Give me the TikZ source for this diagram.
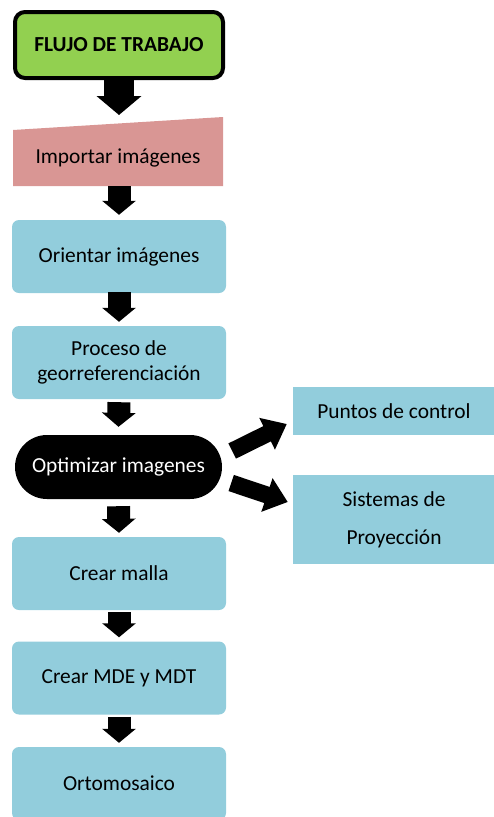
\documentclass[tikz,border=0pt]{standalone}
\usepackage{fontspec}
\setmainfont{Carlito}
\usetikzlibrary{arrows.meta,calc,shapes.misc}
\definecolor{boxblue}{HTML}{92CDDC}
\definecolor{flgreen}{HTML}{92D050}
\definecolor{impink}{HTML}{D99694}
\begin{document}
\begin{tikzpicture}[x=1pt,y=-1pt,
  txt/.style={font=\fontsize{21.4}{25}\selectfont, text=black, align=center, inner sep=0pt},
  bluebox/.style={txt, fill=boxblue, rounded corners=7pt, minimum width=214pt, minimum height=73pt},
  sidebox/.style={txt, fill=boxblue, minimum width=202pt},
  bigdown/.style={line width=30pt, -{Triangle[width=44pt,length=19pt]}},
  downarr/.style={line width=23pt, -{Triangle[width=33pt,length=14pt]}},
  diagarr/.style={line width=17pt, -{Triangle[width=34pt,length=22pt]}}
]
\useasboundingbox (0,0) rectangle (494,817);

% title
\node[txt, draw=black, line width=4pt, fill=flgreen, rounded corners=10pt,
      minimum width=208pt, minimum height=66pt] (top) at (119,45) {\textbf{FLUJO DE TRABAJO}};

% manual input shape
\fill[impink] (13,130) -- (223,117) -- (223,186) -- (13,186) -- cycle;
\node[txt] (imp) at (118,158) {Importar imágenes};
\coordinate (impin) at (119,115);
\coordinate (impout) at (119,186);

\node[bluebox] (ori) at (119,256.5) {Orientar imágenes};
\node[bluebox] (proc) at (119,362.5) {Proceso de\\georreferenciación};
\node[txt, rounded rectangle, fill=black, text=white, minimum width=207pt,
      minimum height=64pt] (opt) at (118.5,467) {Optimizar imagenes};
\node[bluebox] (malla) at (119,573.5) {Crear malla};
\node[bluebox] (mde) at (119,678) {Crear MDE y MDT};
\node[bluebox] (orto) at (119,783.5) {Ortomosaico};

\node[sidebox, minimum height=48pt] (pc) at (394,411) {Puntos de control};
\node[sidebox, minimum height=89pt, font=\fontsize{21.4}{38}\selectfont] (sp) at (394,519.5) {Sistemas de\\Proyección};

% arrows
\draw[bigdown] (top.south) -- (impin);
\draw[downarr] (impout) -- ($(ori.north)+(0,-5)$);
\draw[downarr] ($(ori.south)+(0,-1)$) -- ($(proc.north)+(0,-4)$);
\draw[downarr] ($(proc.south)+(0,3)$) -- ($(opt.north)+(0,-8)$);
\draw[downarr] ($(opt.south)+(0,7)$) -- ($(malla.north)+(0,-4)$);
\draw[downarr] ($(malla.south)+(0,2)$) -- ($(mde.north)+(0,-4)$);
\draw[downarr] ($(mde.south)+(0,2)$) -- ($(orto.north)+(0,-4)$);

\draw[diagarr] ($(opt.east)+(10,-16)$) -- ($(pc.west)+(-6,13)$);
\draw[diagarr] ($(opt.east)+(9,16)$) -- ($(sp.west)+(-5,-17.5)$);
\end{tikzpicture}
\end{document}
